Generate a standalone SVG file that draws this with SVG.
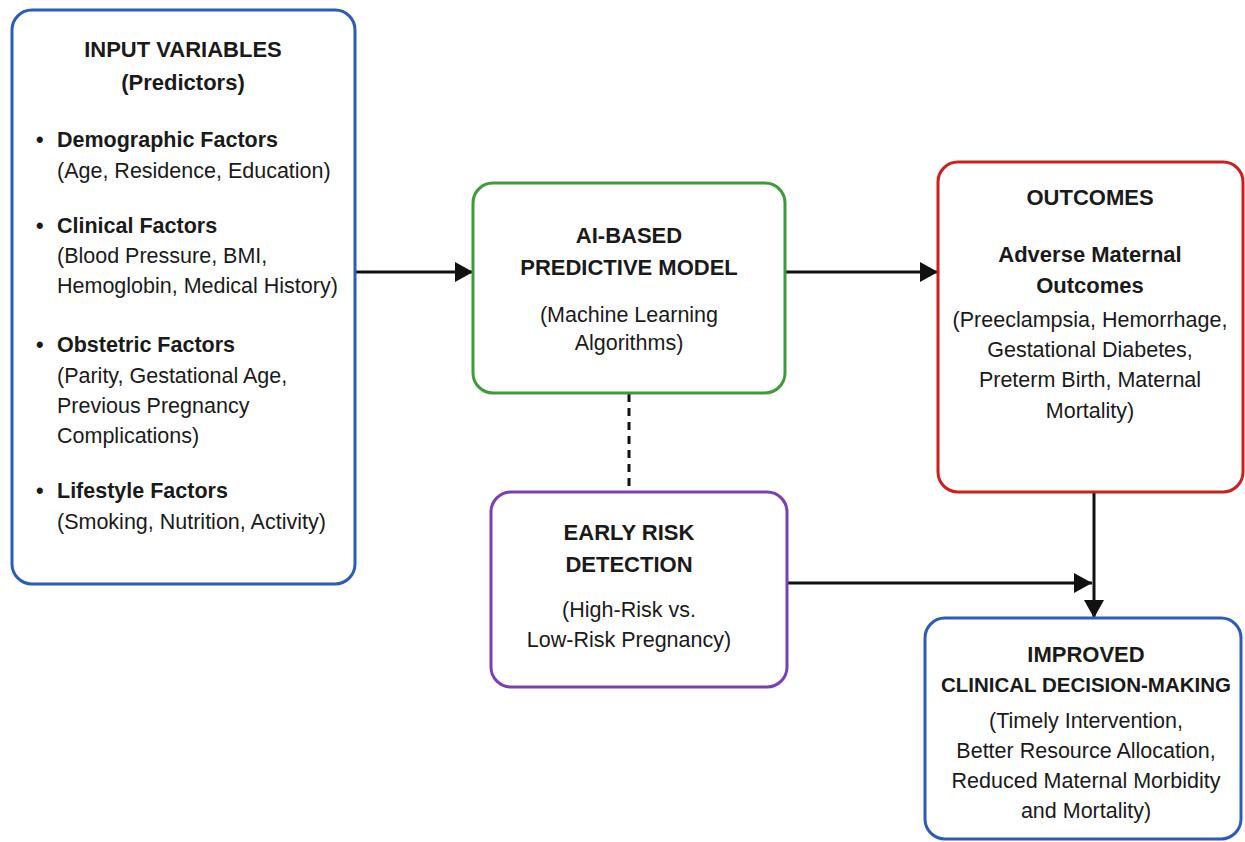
<svg xmlns="http://www.w3.org/2000/svg" width="1245" height="842" viewBox="0 0 1245 842">
<style>
.box{fill:#ffffff;stroke-width:3}
.t{font-family:"Liberation Sans",Arial,sans-serif;fill:#1a1a1a}
.h{font-weight:bold;font-size:22px;text-anchor:middle}
.b{font-size:21.5px}
.bb{font-weight:bold;font-size:21.5px}
.c{text-anchor:middle}
.ln{stroke:#111;stroke-width:3;fill:none}
</style>
<defs>
<marker id="ah" markerWidth="18" markerHeight="20" refX="18" refY="10" orient="auto" markerUnits="userSpaceOnUse">
<path d="M0,0 L18,10 L0,20 Z" fill="#111"/>
</marker>
</defs>
<rect width="1245" height="842" fill="#ffffff"/>
<g id="connectors">
<line class="ln" x1="355" y1="272" x2="473" y2="272" marker-end="url(#ah)"/>
<line class="ln" x1="786" y1="272" x2="938" y2="272" marker-end="url(#ah)"/>
<line class="ln" x1="629" y1="394" x2="629" y2="492" stroke-dasharray="8,6"/>
<line class="ln" x1="787" y1="583" x2="1092" y2="583" marker-end="url(#ah)"/>
<line class="ln" x1="1094" y1="493" x2="1094" y2="618" marker-end="url(#ah)"/>
</g>
<g id="input">
<rect class="box" x="12" y="10" width="343" height="574" rx="20" stroke="#2a5cb8"/>
<text class="t h" x="183" y="57">INPUT VARIABLES</text>
<text class="t h" x="183" y="90">(Predictors)</text>
<g class="t">
<text class="bb" x="36" y="147">•</text>
<text class="bb" x="57" y="147">Demographic Factors</text>
<text class="b" x="57" y="178">(Age, Residence, Education)</text>
<text class="bb" x="36" y="233">•</text>
<text class="bb" x="57" y="233">Clinical Factors</text>
<text class="b" x="57" y="263">(Blood Pressure, BMI,</text>
<text class="b" x="57" y="293">Hemoglobin, Medical History)</text>
<text class="bb" x="36" y="352">•</text>
<text class="bb" x="57" y="352">Obstetric Factors</text>
<text class="b" x="57" y="383">(Parity, Gestational Age,</text>
<text class="b" x="57" y="413">Previous Pregnancy</text>
<text class="b" x="57" y="443">Complications)</text>
<text class="bb" x="36" y="498">•</text>
<text class="bb" x="57" y="498">Lifestyle Factors</text>
<text class="b" x="57" y="529">(Smoking, Nutrition, Activity)</text>
</g>
</g>
<g id="model">
<rect class="box" x="473" y="183" width="312" height="210" rx="20" stroke="#3e9a3a"/>
<text class="t h" x="629" y="243">AI-BASED</text>
<text class="t h" x="629" y="275">PREDICTIVE MODEL</text>
<text class="t b c" x="629" y="322">(Machine Learning</text>
<text class="t b c" x="629" y="350">Algorithms)</text>
</g>
<g id="outcomes">
<rect class="box" x="938" y="162" width="305" height="330" rx="20" stroke="#cc1f1f"/>
<text class="t h" x="1090" y="205">OUTCOMES</text>
<text class="t h" x="1090" y="262">Adverse Maternal</text>
<text class="t h" x="1090" y="293">Outcomes</text>
<text class="t b c" x="1090" y="327">(Preeclampsia, Hemorrhage,</text>
<text class="t b c" x="1090" y="357">Gestational Diabetes,</text>
<text class="t b c" x="1090" y="387">Preterm Birth, Maternal</text>
<text class="t b c" x="1090" y="418">Mortality)</text>
</g>
<g id="detection">
<rect class="box" x="491" y="492" width="296" height="195" rx="20" stroke="#7a3fb5"/>
<text class="t h" x="629" y="540">EARLY RISK</text>
<text class="t h" x="629" y="572">DETECTION</text>
<text class="t b c" x="629" y="617">(High-Risk vs.</text>
<text class="t b c" x="629" y="647">Low-Risk Pregnancy)</text>
</g>
<g id="decision">
<rect class="box" x="925" y="618" width="316" height="221" rx="20" stroke="#2a5cb8"/>
<text class="t h" x="1086" y="662">IMPROVED</text>
<text class="t h" x="1086" y="692" style="font-size:20.5px">CLINICAL DECISION-MAKING</text>
<text class="t b c" x="1086" y="728">(Timely Intervention,</text>
<text class="t b c" x="1086" y="758">Better Resource Allocation,</text>
<text class="t b c" x="1086" y="788">Reduced Maternal Morbidity</text>
<text class="t b c" x="1086" y="818">and Mortality)</text>
</g>
</svg>
